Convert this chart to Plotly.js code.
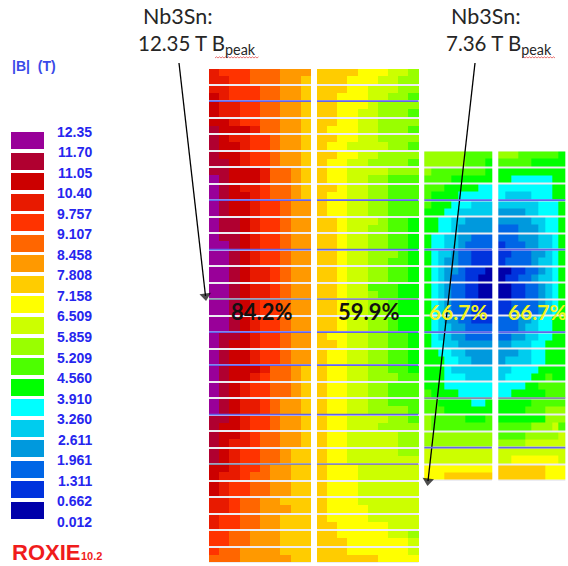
<!DOCTYPE html>
<html><head><meta charset="utf-8">
<script src="https://cdn.plot.ly/plotly-3.0.1.min.js"></script>
<style>html,body{margin:0;padding:0;background:#fff}#c{width:568px;height:566px}
.heatmaplayer image{filter:blur(0.55px)}</style></head>
<body><div id="c"></div>
<script>
const levelCodes = "vkbmsweihgyalnordcp";
const levelColors = ["#0000aa","#0033dd","#0066e6","#0099dd","#00ccee","#00ffff","#00ff00","#4dff00","#99ff00","#ccff00","#ffff00","#ffcc00","#ff9900","#ff6600","#ff3300","#e81a00","#cc0000","#b00030","#990099"];
const legendLabels = ["12.35","11.70","11.05","10.40","9.757","9.107","8.458","7.808","7.158","6.509","5.859","5.209","4.560","3.910","3.260","2.611","1.961","1.311","0.662","0.012"];

const blockA = ["rooonnnlll","rroonnnlla","rrooonnlla","drooonnlla","drroonnlla","drroonnlla","ddroonnlla","cdddrnnlla","cdrroonlla","cddroonlla","cddroonlla","ccdroonlla","ccdddrnnla","pcdddrnnla","pcdrronnla","pcddronnla","pcddroonll","pcddroonll","pccdroonll","pccdroonll","pccdroonll","ppcdroonll","ppcdroonll","ppcdroonll","ppcdrronll","ppcdrronll","ppcdrronll","ppcdrronll","ppcdroonll","ppcdroonll","ppcdroonll","ppcdroonll","pccdroonll","pcddroonll","pcddroonll","pcddroonll","pcdddrnnla","pcddronnla","pcdroonnla","pcdroonnla","pcdrronlla","pcdrronlla","ccdroonlla","cddroonlla","cddronnlla","cdrronnlla","cdroonnlaa","cdroonnlaa","ddroonllaa","drronnllaa","droonnllaa","droonnllaa","rronnllaaa","rronnlllaa","roonnllaaa","roonnllaaa","oonnlllaaa","oonnlllaaa","onnllllaaa","nnnlllllaa"];

const blockB = ["aaaayyyggh","aaayyygghh","aaayyggghh","aayyygghhi","aayyyghhhh","aayygghhhi","aayygghhhh","ayyygghhhi","aayygghhhh","ayygggghhi","aayygghhhh","ayygghhhhi","ayygggghhh","ayygghhiii","aaygghhiii","ayygghhiii","ayygghhiii","ayygghhiii","aayggghiie","aaygghhiie","aaygghhiie","aaygghhiie","aaygghhhie","aaygghhiie","aaygghhiie","aaygghhiie","aayggiiiee","aaygghiiee","aaygghhiee","aaygghhiee","aaygghhiee","aaygghhiee","ayygghhiie","aaygghhiie","ayygghhiie","ayygghhiie","ayygghhiie","ayygghhhii","ayygghhiii","ayygghhiii","ayygghhiii","ayygghhhhi","ayygggghhi","ayyggghhhh","ayyggggghh","ayyggggghh","ayyggggghh","ayyggggggg","ayyygggggg","ayyygggggg","ayyygggggg","ayyygggggg","ayyygggggg","ayyyyggggg","ayyyyggggg","aayyyyyggg","aayyyyyggh","aaayyyyyyg","aaayyyyyyg","aaaaaayyyy"];

const blockC = ["hhhhhhiiii","hhhhhhiiie","hiiiiiiiie","iiiieeeeee","iiieeeeeww","ieeeewwwww","ieeewwwsss","eeewwsssss","eewwssmmmm","eewwsmmmmm","ewwssmmbbb","ewwssmbbbb","ewssmbbkkk","ewsmmbbkkk","ewsmmbkkkv","ewsmbbkkvv","ewsmbbkkvv","ewsmbbkkvv","ewsmbbbkkk","ewsmbbbkkk","ewsmmbbkkk","ewssmmbbbb","ewssmmbbbb","ewwssmmmmm","eewwssmmmm","eeewwssmmm","eeewssssss","eeewwwssss","eeewwwwwww","ieeeewwwww","iieeeeewwe","iiieeeeeee","hiiiiieeei","hiiiiiiiii","hhhhhhhhhh","hhhhhhhhhh","gggggggggg","gggggggggg","yyyyyyyyyy","yyyaaaaaaa"];

const blockD = ["hhhiiiiiie","iiiiieeeee","eeeeeeeeee","eewwwwwwee","wwwwwwwwee","wsssswwwee","sssssswwwe","mmmmsswwwe","mmmmmsswwe","bbbmmmswwe","bbbmmmsswe","kbbbmmsswe","kkbbbmmswe","kbbbbmsswe","vvkkbbmswe","vkkbbmsswe","vvkkbbmswe","vvkkbbmswe","kkbbbbmswe","kkbbbbmswe","bbbmmswwee","bbbmsswwee","bbmmsswwee","mmssswweee","mmmsswweee","msssswweee","sswwwweeee","swwwweeiee","wwwweeiiii","wweeeeeiii","eeeeeiiiii","eeeeiiihhh","eeeeeeehhh","iiiiihhhgi","iiiihhhhhg","hhhhgggggg","gggggggggg","ggyyyyyyyg","aaaaaaayyy","aaaaaaayyy"];

const linesLeft = [2,8,11,14,16,18,21,24];
const linesRight = [3,6,11,15,18];
const greyLinesLeft = [14,24];
const greyLinesRight = [15];

const Y0 = 69, PITCH = 16.5, GAP = 1.6;
const decode = s => s.split("").map(c => levelCodes.indexOf(c));
const scale = [];
levelColors.forEach((c,i)=>{scale.push([i/19,c]);scale.push([(i+1)/19,c]);});
const hm = (x,y,z) => ({type:"heatmap",x,y,z,zmin:-0.5,zmax:18.5,colorscale:scale,showscale:false,hoverinfo:"skip",zsmooth:false,hoverongaps:false,xgap:0,ygap:0});

function block(rows, left, width, top){
  const x = Array.from({length:11},(_,i)=>left+i*width/10);
  const y=[top], z=[], h=(PITCH-GAP)/2;
  const cables = rows.length/2;
  for(let c=0;c<cables;c++){
    const t = top+c*PITCH;
    z.push(decode(rows[2*c])); y.push(t+h);
    z.push(decode(rows[2*c+1])); y.push(t+2*h);
    if(c<cables-1){ z.push(new Array(10).fill(null)); y.push(t+PITCH); }
  }
  return hm(x,y,z);
}
const topRight = Y0+5*PITCH;
const traces = [
  block(blockA,209,102,Y0),
  block(blockB,317,101.5,Y0),
  block(blockC,424.3,67.6,topRight),
  block(blockD,498.3,67,topRight)
];
(function(){
  const y=[],z=[]; const t0=132,p=20.55,hh=17;
  for(let i=0;i<19;i++){
    y.push(t0+i*p); z.push([18-i]);
    y.push(t0+i*p+hh); if(i<18) z.push([null]);
  }
  traces.push(hm([11,44],y,z));
})();
const arrow=(x,y)=>traces.push({type:"scatter",mode:"lines+markers",x,y,hoverinfo:"skip",
  line:{color:"#000",width:1.3},
  marker:{symbol:["circle","triangle-up"],size:[1,10],angleref:"previous",color:"#000",line:{width:0}}});
arrow([179,205.5],[63,296]);
arrow([475,428],[63,481]);

const shapes=[];
[[209,311,Y0,563],[317,418.5,Y0,563],[424.3,491.9,topRight,481],[498.3,565.3,topRight,481]].forEach(b=>
  shapes.push({type:"rect",xref:"x",yref:"y",x0:b[0],x1:b[1],y0:b[2],y1:b[3],fillcolor:"#ececf2",line:{width:0},layer:"below"}));
const sepLine=(x0,x1,y,col,w)=>shapes.push({type:"line",xref:"x",yref:"y",x0,x1,y0:y,y1:y,line:{color:col,width:w},layer:"above"});
linesLeft.forEach(n=>{
  const y=Y0+n*PITCH-GAP/2, grey=greyLinesLeft.includes(n);
  const col=grey?"#8a8aa8":"#6464ea";
  sepLine(209,311,y,col,1.8); sepLine(317,418.5,y,col,1.8);
});
linesRight.forEach(n=>{
  const y=topRight+n*PITCH-GAP/2, grey=greyLinesRight.includes(n);
  const col=grey?"#8a8aa8":"#6464ea";
  sepLine(424.3,491.9,y,col,1.8); sepLine(498.3,565.3,y,col,1.8);
});
function squiggle(x0,x1,y){
  let d=`M${x0},${y}`; let up=true;
  for(let x=x0+1.5;x<=x1;x+=1.5){ d+=`L${x},${y+(up?-1.2:0)}`; up=!up; }
  shapes.push({type:"path",xref:"x",yref:"y",path:d,line:{color:"#e05050",width:0.8}});
}
squiggle(215,259,58); squiggle(522,556,58);

const ann=[];
const txt=(x,y,text,font,anchor)=>ann.push({x,y,xref:"x",yref:"y",text,showarrow:false,xanchor:anchor||"left",yanchor:"middle",font,align:"left"});
const calibri={family:"Lato",size:21.5,color:"#262626"};
const calibri2={family:"Lato",size:20.5,color:"#262626"};
txt(140.5,16,"Nb3Sn:",calibri);
txt(136,44,"12.35 T B<sub>peak</sub>",calibri2);
txt(448.5,16,"Nb3Sn:",calibri);
txt(444,44,"7.36 T B<sub>peak</sub>",calibri2);
const blue={family:"Liberation Sans",size:14,color:"#2626ee"};
legendLabels.forEach((l,i)=>txt(94,131.7+i*20.53,"<b>"+l+"</b>",blue,"right"));
txt(10,66,"<b>|B|&nbsp;&nbsp;(T)</b>",{family:"Liberation Sans",size:14,color:"#3a4ae8"});
txt(9.5,552,"<b>ROXIE</b>",{family:"Liberation Sans",size:22,color:"#f01c1c"});
txt(79,556,"<b>10.2</b>",{family:"Liberation Sans",size:11,color:"#f01c1c"});
const pct={family:"Lato",size:22,color:"#111111"};
const pctY={family:"Lato",size:21,color:"#f4f420"};
txt(262,311,"<b>84.2%</b>",pct,"center");
txt(368.5,311,"<b>59.9%</b>",pct,"center");
txt(458,311,"<b>66.7%</b>",pctY,"center");
txt(537.5,311,"<b>66.7%</b>",pctY,"center");

Plotly.newPlot("c",traces,{
  width:568,height:566,margin:{l:0,r:0,t:0,b:0},paper_bgcolor:"#fff",plot_bgcolor:"#fff",
  xaxis:{range:[0,568],visible:false,fixedrange:true},
  yaxis:{range:[566,0],visible:false,fixedrange:true},
  shapes,annotations:ann,showlegend:false
},{displayModeBar:false,staticPlot:true}).then(()=>{
  document.querySelectorAll("#c text").forEach(t=>{ if(!t.textContent.trim()) t.remove(); });
});
</script></body></html>
